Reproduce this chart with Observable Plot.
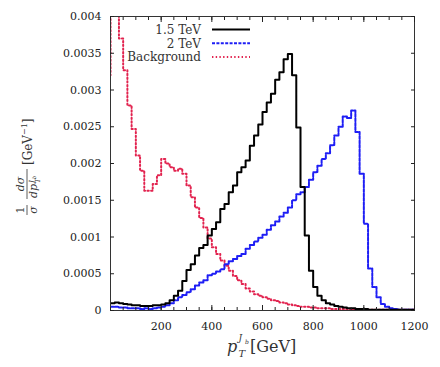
<!DOCTYPE html>
<html><head><meta charset="utf-8">
<script src="https://cdn.jsdelivr.net/npm/d3@7"></script>
<script src="https://cdn.jsdelivr.net/npm/@observablehq/plot@0.6"></script>
<style>body{margin:0;background:#fff}</style>
</head><body><div id="chart"></div>
<script>
// ---- data (bin width in GeV, bin contents) ----
const binWidth = 50 / 3;
const signalStart = 0;
const backgroundStart = -50 / 3; // first entry is the underflow bin just left of 0
const signal15 = [0.0001, 0.00011, 0.0001, 0.00009, 0.00008, 0.00007, 0.00007, 0.00006, 0.00006, 0.00006,
 0.00007, 0.00007, 0.00008, 0.0001, 0.00014, 0.0002, 0.00027, 0.0004, 0.00055, 0.00063,
 0.00075, 0.00085, 0.00089, 0.00102, 0.00111, 0.0012, 0.00138, 0.00145, 0.00161, 0.0017,
 0.00188, 0.00195, 0.00204, 0.00224, 0.00238, 0.00253, 0.0027, 0.00283, 0.00295, 0.00314,
 0.00324, 0.00342, 0.00349, 0.0032, 0.00249, 0.00168, 0.00102, 0.00054, 0.00032, 0.0002,
 0.00014, 0.0001, 0.00008, 0.00006, 0.00005, 0.00004, 0.00003, 0.00003, 0.00002, 0.00002,
 0.00002, 0.00001, 0.00001, 0.00001, 0.00001, 0.00001, 0.00001, 0.00001, 0.00001, 0.00001, 0.00001, 0.00001];
const signal2 = [0.00005, 0.00005, 0.00004, 0.00004, 0.00003, 0.00003, 0.00003, 0.00002, 0.00003, 0.00002,
 0.00003, 0.00004, 0.00005, 0.00007, 0.0001, 0.00014, 0.00018, 0.00021, 0.00025, 0.00029,
 0.00034, 0.00038, 0.00041, 0.00048, 0.0005, 0.00053, 0.00056, 0.00063, 0.00067, 0.0007,
 0.00074, 0.00077, 0.00084, 0.00089, 0.00094, 0.00099, 0.00103, 0.0011, 0.00116, 0.00121,
 0.00128, 0.00133, 0.0014, 0.0015, 0.00158, 0.00161, 0.00168, 0.00178, 0.00188, 0.00197,
 0.00206, 0.00214, 0.00225, 0.00238, 0.0025, 0.00264, 0.00262, 0.00272, 0.00243, 0.00186,
 0.00118, 0.00057, 0.00032, 0.00018, 0.00009, 0.00005, 0.00003, 0.00002, 0.00001, 0.00001, 0.00001, 0.00001];
const background = [0.0032,
 0.0043, 0.0043, 0.0037, 0.00327, 0.00279, 0.00247, 0.00211, 0.0019, 0.00163, 0.00163,
 0.00172, 0.00184, 0.00206, 0.002, 0.00195, 0.0019, 0.00193, 0.00186, 0.0017, 0.00154,
 0.0014, 0.00126, 0.00113, 0.00098, 0.00086, 0.00077, 0.00068, 0.00061, 0.00054, 0.00047,
 0.00041, 0.00036, 0.0003, 0.00026, 0.00022, 0.0002, 0.00018, 0.00016, 0.00014, 0.00013,
 0.00011, 0.0001, 0.00008, 0.00007, 0.00006, 0.00005, 0.00005, 0.00004, 0.00004, 0.00003,
 0.00003, 0.00003, 0.00002, 0.00002, 0.00002, 0.00002, 0.00002, 0.00001, 0.00001, 0.00001,
 0.00001, 0.00001, 0.00001, 0.00001, 0.00001, 0.00001, 0.00001, 0.00001, 0.00001, 0.00001, 0.00001, 0.00001, 0.00001];
const seriesNames = ["1.5 TeV", "2 TeV", "Background"];
const xTickLabels = [200, 400, 600, 800, 1000, 1200];
const xMinorTicks = [0, 50, 100, 150, 200, 250, 300, 350, 400, 450, 500, 550, 600, 650, 700, 750, 800, 850, 900, 950, 1000, 1050, 1100, 1150, 1200];
const yTicks = [0, 0.0005, 0.001, 0.0015, 0.002, 0.0025, 0.003, 0.0035, 0.004];

// ---- styles ----
const colors = ["#000000", "#1e1ef5", "#e2234f"];
const dashes = [null, "3,1.4", "1.4,2.3"];

function steps(values, start) {
  const pts = values.map((v, i) => ({x: start + i * binWidth, y: v}));
  pts.push({x: start + values.length * binWidth, y: values[values.length - 1]});
  return pts;
}
const data = [steps(signal15, signalStart), steps(signal2, signalStart), steps(background, backgroundStart)];

const lineMark = (i) => Plot.line(data[i], {x: "x", y: "y", curve: "step-after", stroke: colors[i],
  strokeWidth: 2, strokeDasharray: dashes[i], clip: true});

const chart = Plot.plot({
  width: 440, height: 367,
  marginLeft: 110, marginRight: 26, marginTop: 16, marginBottom: 57,
  x: {domain: [0, 1200]},
  y: {domain: [0, 0.004]},
  style: {fontFamily: "DejaVu Serif", fontSize: "11px", color: "#222", background: "white"},
  marks: [
    lineMark(2), lineMark(1), lineMark(0),
    Plot.frame({stroke: "#333"}),
    Plot.axisX(xMinorTicks, {anchor: "bottom", tickSize: -3, fill: "none", label: null}),
    Plot.axisX(xTickLabels, {anchor: "bottom", tickSize: -5, tickPadding: 17, label: null, tickFormat: d => String(d)}),
    Plot.axisX(xMinorTicks, {anchor: "top", tickSize: -3, fill: "none", label: null}),
    Plot.axisX(xTickLabels, {anchor: "top", tickSize: -5, fill: "none", label: null}),
    Plot.axisY(yTicks, {anchor: "left", tickSize: -4, tickPadding: 13, label: null, tickFormat: d => String(d)}),
    Plot.axisY(yTicks, {anchor: "right", tickSize: -4, fill: "none", label: null})
  ]
});
document.getElementById("chart").appendChild(chart);

const svg = d3.select(chart);
const ff = "DejaVu Serif";

// legend
seriesNames.forEach((name, i) => {
  const yl = 29.5 + 13.7 * i;
  svg.append("text").attr("x", 201).attr("y", yl + 4.3).attr("text-anchor", "end")
    .attr("font-family", ff).attr("font-size", 12).attr("fill", "#333").text(name);
  svg.append("line").attr("x1", 212).attr("x2", 250).attr("y1", yl).attr("y2", yl)
    .attr("stroke", colors[i]).attr("stroke-width", 2).attr("stroke-dasharray", dashes[i]);
});

// x label: p_T^{J_b} [GeV]
const xg = svg.append("g").attr("font-family", ff).attr("fill", "#333").attr("text-anchor", "start");
xg.append("text").attr("x", 227).attr("y", 352).attr("font-size", 16).attr("font-style", "italic").text("p");
xg.append("text").attr("x", 238.5).attr("y", 357).attr("font-size", 10).attr("font-style", "italic").text("T");
xg.append("text").attr("x", 238.5).attr("y", 341).attr("font-size", 9).attr("font-style", "italic").text("J");
xg.append("text").attr("x", 245).attr("y", 344).attr("font-size", 6).attr("font-style", "italic").text("b");
xg.append("text").attr("x", 250).attr("y", 352).attr("font-size", 16).text("[GeV]");

// y label: 1/σ dσ/dp_T^{J_b} [GeV^-1]
const g = svg.append("g").attr("transform", "translate(27,167) rotate(-90)")
  .attr("font-family", ff).attr("fill", "#333").attr("text-anchor", "start");
g.append("text").attr("x", -43).attr("y", -3).attr("text-anchor", "middle").attr("font-size", 11).text("1");
g.append("line").attr("x1", -48).attr("x2", -38).attr("y1", 0).attr("y2", 0).attr("stroke", "#333").attr("stroke-width", 0.8);
g.append("text").attr("x", -43).attr("y", 10).attr("text-anchor", "middle").attr("font-size", 11).attr("font-style", "italic").text("σ");
g.append("text").attr("x", -17).attr("y", -3).attr("text-anchor", "middle").attr("font-size", 11).attr("font-style", "italic").text("dσ");
g.append("line").attr("x1", -32).attr("x2", -2).attr("y1", 0).attr("y2", 0).attr("stroke", "#333").attr("stroke-width", 0.8);
g.append("text").attr("x", -31).attr("y", 10).attr("font-size", 11).attr("font-style", "italic").text("dp");
g.append("text").attr("x", -16).attr("y", 13).attr("font-size", 7).attr("font-style", "italic").text("T");
g.append("text").attr("x", -16).attr("y", 7).attr("font-size", 7).attr("font-style", "italic").text("J");
g.append("text").attr("x", -12).attr("y", 9).attr("font-size", 5).attr("font-style", "italic").text("b");
const gl = g.append("text").attr("x", 2).attr("y", 5).attr("font-size", 12);
gl.append("tspan").text("[GeV");
gl.append("tspan").attr("font-size", 8).attr("dy", -5).text("−1");
gl.append("tspan").attr("dy", 5).text("]");
</script>
</body></html>
